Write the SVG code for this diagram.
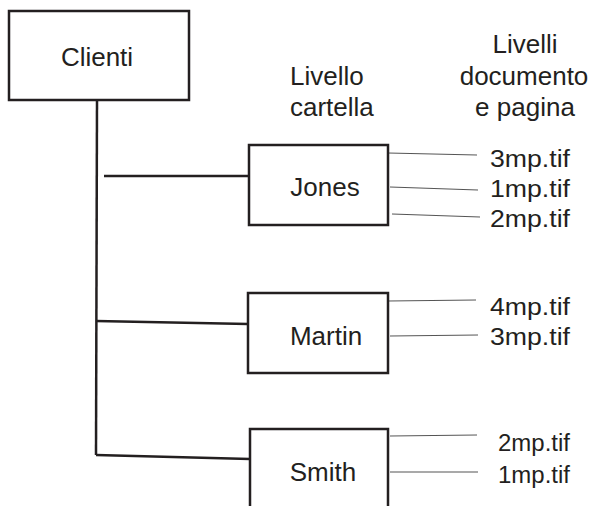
<svg xmlns="http://www.w3.org/2000/svg" width="595" height="506" viewBox="0 0 595 506">
<style>
.box{fill:#fff;stroke:#231f20;stroke-width:2.5}
.t{font-family:"Liberation Sans",Arial,sans-serif;font-size:26px;fill:#231f20}
.f{font-family:"Liberation Sans",Arial,sans-serif;font-size:23.5px;fill:#231f20}
.m{text-anchor:middle}
.thick{stroke:#231f20;stroke-width:2.5;fill:none}
.thin{stroke:#555;stroke-width:1.2;fill:none}
</style>
<rect width="595" height="506" fill="#fff"/>
<g id="connectors">
<line class="thick" x1="97" y1="100" x2="96" y2="455"/>
<line class="thick" x1="104" y1="176" x2="249" y2="176"/>
<line class="thick" x1="96" y1="321" x2="248" y2="324"/>
<line class="thick" x1="96" y1="455" x2="250" y2="459"/>
<line class="thin" x1="388" y1="153" x2="477" y2="155"/>
<line class="thin" x1="390" y1="187" x2="478" y2="190"/>
<line class="thin" x1="392" y1="214" x2="480" y2="217"/>
<line class="thin" x1="388" y1="301" x2="476" y2="300"/>
<line class="thin" x1="390" y1="336" x2="478" y2="335"/>
<line class="thin" x1="390" y1="436" x2="477" y2="435"/>
<line class="thin" x1="390" y1="472" x2="478" y2="472"/>
</g>
<g id="clienti">
<rect class="box" x="9" y="11" width="180" height="89"/>
<text class="t m" x="97" y="66">Clienti</text>
</g>
<g id="header-cartella">
<text class="t" x="290" y="85">Livello</text>
<text class="t" x="290" y="116">cartella</text>
</g>
<g id="header-documento">
<text class="t m" x="525" y="53">Livelli</text>
<text class="t m" x="524" y="85">documento</text>
<text class="t m" x="525" y="116">e pagina</text>
</g>
<g id="jones">
<rect class="box" x="249" y="145" width="139" height="80"/>
<text class="t m" x="325" y="196">Jones</text>
</g>
<g id="martin">
<rect class="box" x="248" y="293" width="140" height="80"/>
<text class="t m" x="326" y="345">Martin</text>
</g>
<g id="smith">
<path class="thick" d="M250 510 V429 H388 V510"/>
<text class="t m" x="323" y="481">Smith</text>
</g>
<g id="files">
<text class="f" x="490" y="167" textLength="80" lengthAdjust="spacingAndGlyphs">3mp.tif</text>
<text class="f" x="490" y="197" textLength="80" lengthAdjust="spacingAndGlyphs">1mp.tif</text>
<text class="f" x="490" y="227" textLength="80" lengthAdjust="spacingAndGlyphs">2mp.tif</text>
<text class="f" x="490" y="315" textLength="80" lengthAdjust="spacingAndGlyphs">4mp.tif</text>
<text class="f" x="490" y="345" textLength="80" lengthAdjust="spacingAndGlyphs">3mp.tif</text>
<text class="f" x="498" y="451" textLength="72" lengthAdjust="spacingAndGlyphs">2mp.tif</text>
<text class="f" x="498" y="483" textLength="72" lengthAdjust="spacingAndGlyphs">1mp.tif</text>
</g>
</svg>
